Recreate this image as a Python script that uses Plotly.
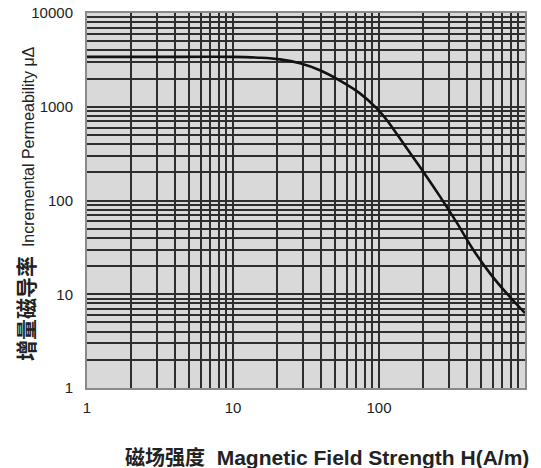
import plotly.graph_objects as go

# Data
H = [1, 3, 10, 15, 21, 28.8, 39.4, 54, 74, 96.5, 113, 155, 201, 262, 341, 443, 576, 750, 1000]
mu = [3400, 3400, 3400, 3335, 3200, 2910, 2450, 1900, 1390, 961, 723, 360, 203, 110, 58, 29.7, 16.7, 10.2, 6.3]

x_tickvals = [m * 10 ** d for d in range(0, 3) for m in range(1, 10)] + [1000]
x_ticktext = [str(v) if v in (1, 10, 100, 1000) else "" for v in x_tickvals]
y_tickvals = [m * 10 ** d for d in range(0, 4) for m in range(1, 10)] + [10000]
y_ticktext = [str(v) if v in (1, 10, 100, 1000, 10000) else "" for v in y_tickvals]

x_title = "<b><span style='font-size:20px'>磁场强度</span>  Magnetic Field Strength H(A/m)</b>"
y_title = "<b><span style='font-size:21px'>增量磁导率</span></b>  Incremental Permeability μΔ"

FONT = "Liberation Sans, Arial, Noto Sans CJK SC, sans-serif"
GRID = "#2e2e2e"
TXT = "#222222"

fig = go.Figure()
fig.add_trace(go.Scatter(
    x=H, y=mu, mode="lines",
    line=dict(color="#111111", width=2.6, shape="spline", smoothing=1.0),
    showlegend=False,
))

fig.update_xaxes(
    type="log", range=[0, 3], automargin=False,
    tickvals=x_tickvals, ticktext=x_ticktext,
    showgrid=True, gridcolor=GRID, gridwidth=1.8,
    ticks="", zeroline=False,
    showline=True, mirror=True, linecolor="#8a8a8a", linewidth=2,
    tickfont=dict(family=FONT, size=15, color=TXT),
    ticklabelstandoff=5,
)
fig.update_yaxes(
    type="log", range=[0, 4], automargin=False,
    tickvals=y_tickvals, ticktext=y_ticktext,
    showgrid=True, gridcolor=GRID, gridwidth=1.8,
    ticks="", zeroline=False,
    showline=True, mirror=True, linecolor="#8a8a8a", linewidth=2,
    tickfont=dict(family=FONT, size=15, color=TXT),
    ticklabelstandoff=9,
)

fig.add_annotation(
    text=x_title, xref="paper", yref="paper",
    x=(327 - 87) / (525 - 87), y=-(457 - 388) / (388 - 13),
    xanchor="center", yanchor="middle", showarrow=False,
    font=dict(family=FONT, size=21, color=TXT),
)
fig.add_annotation(
    text=y_title, xref="paper", yref="paper",
    x=-(87 - 26) / (525 - 87), y=(388 - 204) / (388 - 13),
    xanchor="center", yanchor="middle", showarrow=False, textangle=-90,
    font=dict(family=FONT, size=16, color=TXT),
)

fig.update_layout(
    width=541, height=468,
    margin=dict(l=87, r=16, t=13, b=80),
    plot_bgcolor="#d9d9d9",
    paper_bgcolor="#ffffff",
)

fig.write_html(
    "out.html",
    config={"displayModeBar": False},
    post_script="document.body.style.margin='0';document.body.style.overflow='hidden';",
)
